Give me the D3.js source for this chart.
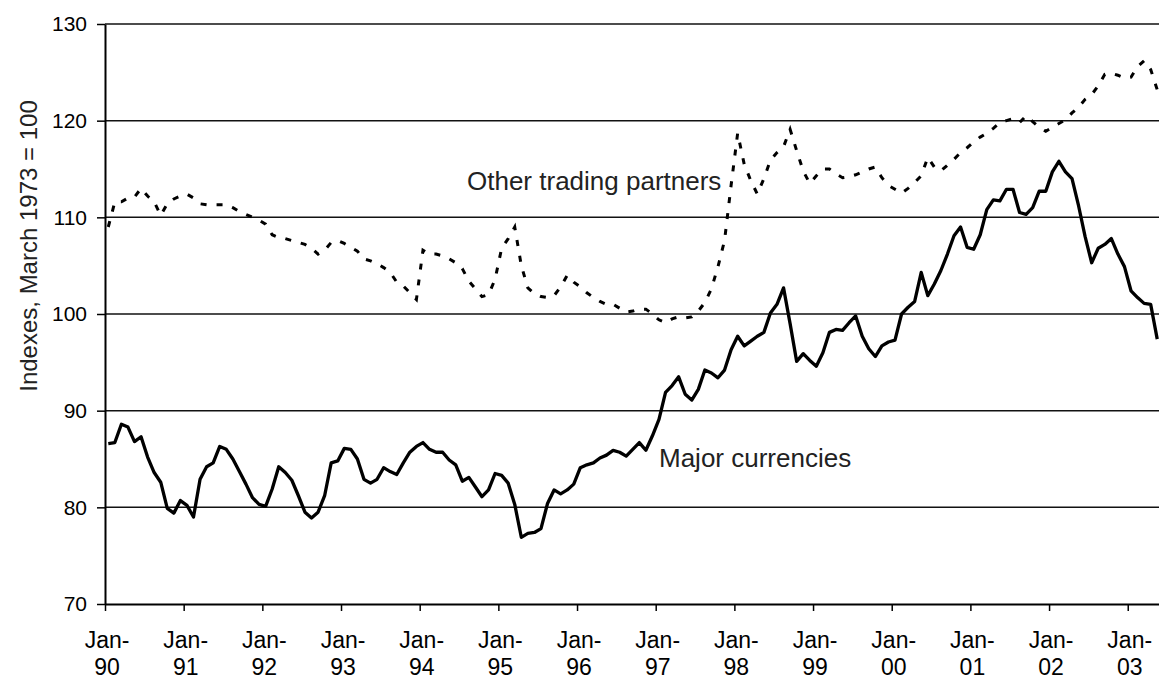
<!DOCTYPE html>
<html>
<head>
<meta charset="utf-8">
<script src="https://cdn.jsdelivr.net/npm/d3@7"></script>
<style>
  body { margin: 0; background: #fff; }
  text { font-family: "Liberation Sans", Arial, Helvetica, sans-serif; }
</style>
</head>
<body>
<div id="chart"></div>
<script>
// monthly, Jan-90 .. May-03
const yearLabels = ["90", "91", "92", "93", "94", "95", "96", "97", "98", "99", "00", "01", "02", "03"];
const yTicks = [70, 80, 90, 100, 110, 120, 130];

const majorCurrencies = [
  86.6, 86.7, 88.6, 88.3, 86.8, 87.3, 85.2, 83.6, 82.6, 79.9, 79.4, 80.7,
  80.2, 79.0, 82.9, 84.2, 84.6, 86.3, 86.0, 85.0, 83.7, 82.4, 81.0, 80.3,
  80.1, 81.9, 84.2, 83.6, 82.8, 81.2, 79.5, 78.9, 79.5, 81.2, 84.6, 84.8,
  86.1, 86.0, 85.0, 82.9, 82.5, 82.9, 84.1, 83.7, 83.4, 84.6, 85.7, 86.3,
  86.7, 86.0, 85.7, 85.7, 84.9, 84.4, 82.7, 83.1, 82.1, 81.1, 81.8, 83.5,
  83.3, 82.5, 80.3, 76.9, 77.3, 77.4, 77.8, 80.4, 81.8, 81.4, 81.8, 82.4,
  84.1, 84.4, 84.6, 85.1, 85.4, 85.9, 85.7, 85.3, 86.0, 86.7, 85.9, 87.4,
  89.1, 91.9, 92.6, 93.5, 91.7, 91.1, 92.2, 94.2, 93.9, 93.4, 94.2, 96.3,
  97.7, 96.7, 97.2, 97.7, 98.1, 100.1, 101.0, 102.7, 99.0, 95.1, 95.9, 95.2,
  94.6, 96.0, 98.1, 98.4, 98.3, 99.1, 99.8, 97.7, 96.4, 95.6, 96.7, 97.1,
  97.3, 100.0, 100.7, 101.3, 104.3, 101.9, 103.1, 104.5, 106.2, 108.1, 109.0, 106.9,
  106.7, 108.2, 110.8, 111.8, 111.7, 112.9, 112.9, 110.5, 110.3, 111.0, 112.7, 112.7,
  114.7, 115.8, 114.7, 114.0, 111.2, 108.0, 105.3, 106.8, 107.2, 107.8, 106.2, 104.9,
  102.4, 101.7, 101.1, 101.0, 97.4
];

const otherPartners = [
  109.0, 111.6, 111.6, 112.0, 112.1, 113.0, 112.2, 111.6, 110.2, 111.4, 111.9, 112.2,
  112.4, 112.0, 111.4, 111.3, 111.3, 111.3, 111.3, 111.0, 110.6, 110.3, 110.0, 109.7,
  109.3, 108.2, 107.9, 107.8, 107.6, 107.4, 107.2, 106.8, 106.2, 106.6, 107.4, 107.6,
  107.3, 106.9, 106.5, 105.7, 105.5, 105.2, 104.8, 104.3, 103.3, 102.9, 102.2, 101.5,
  106.6, 106.2, 106.2, 106.0, 105.7, 105.3, 104.7, 103.4, 102.6, 101.8, 102.0, 103.6,
  106.8, 107.8, 109.0, 105.0, 102.7, 102.1, 101.8, 101.7, 101.9, 102.8, 104.0, 103.3,
  102.8, 102.2, 101.7, 101.3, 101.0, 101.0, 100.6, 100.2, 100.3, 100.5, 100.5, 100.0,
  99.4, 99.1, 99.5, 99.7, 99.6, 99.7, 100.3, 101.2, 102.6, 104.9, 107.6, 113.3,
  118.7, 115.5, 113.8, 112.4, 114.0, 115.9, 116.7, 117.3, 119.1, 116.9, 114.8, 113.5,
  114.3, 115.0, 115.0, 114.5, 114.1, 114.2, 114.4, 114.7, 115.0, 115.2, 114.1, 113.3,
  112.9, 112.5, 113.0, 113.6, 114.3, 116.2, 115.2, 114.8, 115.4, 116.0, 116.7, 117.2,
  117.8, 118.3, 118.7, 119.2, 119.8, 120.0, 120.2, 119.8, 120.5, 119.9, 119.3, 118.9,
  119.3, 119.7, 120.1, 120.8, 121.4, 122.2, 122.7, 123.6, 124.8, 124.9, 124.7, 124.4,
  124.5, 125.6, 126.2, 125.3, 123.2
];

const width = 1159;
const height = 681;
const plotLeft = 105, plotTop = 24, plotBottom = 604;
const monthW = 6.556;

const svg = d3.select("#chart")
  .append("svg")
  .attr("width", width)
  .attr("height", height);

const x = d3.scaleLinear().domain([0, 162]).range([plotLeft, plotLeft + 162 * monthW]);
const y = d3.scaleLinear().domain([70, 130]).range([plotBottom, plotTop]);

// gridlines
svg.append("g")
  .selectAll("line")
  .data(yTicks.filter(d => d > 70))
  .enter()
  .append("line")
  .attr("x1", plotLeft)
  .attr("x2", width)
  .attr("y1", d => y(d))
  .attr("y2", d => y(d))
  .attr("stroke", "#111")
  .attr("stroke-width", 1.5);

// y axis
const yAxis = svg.append("g")
  .attr("transform", `translate(${plotLeft},0)`)
  .call(d3.axisLeft(y).tickValues(yTicks).tickSize(8).tickSizeOuter(0).tickPadding(10));
yAxis.select(".domain").attr("stroke", "#000").attr("stroke-width", 2);
yAxis.selectAll(".tick line").attr("stroke", "#000").attr("stroke-width", 1.5);
yAxis.selectAll(".tick text")
  .attr("fill", "#000")
  .style("font-size", "21px");

// x axis
const janIdx = yearLabels.map((d, i) => i * 12);
const xAxis = svg.append("g")
  .attr("transform", `translate(0,${plotBottom})`)
  .call(d3.axisBottom(x).tickValues(janIdx).tickSize(7).tickSizeOuter(0).tickFormat(""));
xAxis.select(".domain").attr("stroke", "#000").attr("stroke-width", 2);
xAxis.selectAll(".tick line").attr("stroke", "#000").attr("stroke-width", 1.5);

const xLab = svg.append("g")
  .selectAll("text")
  .data(yearLabels)
  .enter()
  .append("text")
  .attr("text-anchor", "middle")
  .style("font-size", "23px")
  .attr("fill", "#000");
xLab.append("tspan")
  .attr("x", (d, i) => x(janIdx[i]) + 2)
  .attr("y", 648)
  .text("Jan-");
xLab.append("tspan")
  .attr("x", (d, i) => x(janIdx[i]) + 2)
  .attr("y", 675)
  .text(d => d);

// y title
svg.append("text")
  .attr("transform", "translate(37,246) rotate(-90)")
  .attr("text-anchor", "middle")
  .style("font-size", "24px")
  .attr("fill", "#222")
  .text("Indexes, March 1973 = 100");

// series
const line = d3.line()
  .x((d, i) => x(i + 0.5))
  .y(d => y(d));

svg.append("path")
  .datum(otherPartners)
  .attr("fill", "none")
  .attr("stroke", "#000")
  .attr("stroke-width", 3)
  .attr("stroke-dasharray", "6,10")
  .attr("d", line);

svg.append("path")
  .datum(majorCurrencies)
  .attr("fill", "none")
  .attr("stroke", "#000")
  .attr("stroke-width", 3.3)
  .attr("stroke-linejoin", "round")
  .attr("d", line);

// series labels
svg.append("text")
  .attr("x", 467)
  .attr("y", 190)
  .style("font-size", "26px")
  .attr("fill", "#222")
  .text("Other trading partners");

svg.append("text")
  .attr("x", 659)
  .attr("y", 467)
  .style("font-size", "26px")
  .attr("fill", "#222")
  .text("Major currencies");
</script>
</body>
</html>
